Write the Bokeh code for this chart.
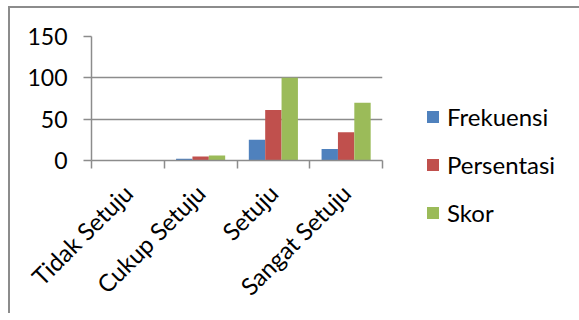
import math
from bokeh.plotting import figure
from bokeh.models import (FactorRange, Range1d, LinearAxis, CategoricalAxis, FixedTicker,
                          Legend, LegendItem, ColumnDataSource)
from bokeh.transform import dodge
from bokeh.embed import file_html
from bokeh.resources import INLINE

categories = ["Tidak Setuju", "Cukup Setuju", "Setuju", "Sangat Setuju"]
frekuensi = [0, 2, 25, 14]
persentasi = [0, 4.9, 61, 34.1]
skor = [0, 6, 100, 70]
series_names = ["Frekuensi", "Persentasi", "Skor"]
colors = ["#4F81BD", "#C0504D", "#9BBB59"]
y_ticks = [0, 50, 100, 150]

FONT = "Lato"
FS = "23px"
FS2 = "24px"
GRAY = "#8c8c8c"

src = ColumnDataSource(dict(cat=categories, Frekuensi=frekuensi, Persentasi=persentasi, Skor=skor))

p = figure(x_range=FactorRange(*categories), y_range=Range1d(0, 150),
           frame_width=291, frame_height=124, output_backend="svg", toolbar_location=None,
           x_axis_location=None, min_border_left=81, min_border_right=187,
           min_border_top=28, min_border_bottom=148)
p.styles = {"border-left": "2px solid #8c8c8c", "border-top": "2px solid #8c8c8c",
            "margin-left": "8px", "margin-top": "6px"}
p.outline_line_color = None
p.xgrid.visible = False
p.ygrid.ticker = FixedTicker(ticks=y_ticks)
p.ygrid.grid_line_color = GRAY
p.ygrid.grid_line_width = 1.5

yax = p.yaxis[0]
yax.ticker = FixedTicker(ticks=y_ticks)
yax.axis_line_color = GRAY
yax.axis_line_width = 1.5
yax.major_tick_line_color = GRAY
yax.major_tick_line_width = 1.5
yax.major_tick_out = 8
yax.major_tick_in = 0
yax.minor_tick_line_color = None
yax.major_label_standoff = 16
yax.major_label_text_font = FONT
yax.major_label_text_font_size = FS
yax.major_label_text_color = "black"

# boundary ticks axis (category boundaries in the factor range's synthetic coordinates)
bounds = list(range(len(categories) + 1))
bax = LinearAxis(ticker=FixedTicker(ticks=bounds),
                 major_label_overrides={i: "" for i in bounds},
                 major_label_text_font_size="0px", major_label_standoff=0,
                 axis_line_color=GRAY, axis_line_width=1.5,
                 major_tick_line_color=GRAY, major_tick_line_width=1.5,
                 major_tick_out=8, major_tick_in=0, minor_tick_line_color=None)
p.add_layout(bax, "below")

cax = CategoricalAxis(axis_line_color=None, major_tick_line_color=None,
                      major_label_orientation=math.pi / 4,
                      major_label_text_font=FONT, major_label_text_font_size=FS2,
                      major_label_text_color="black", major_label_standoff=14)
p.add_layout(cax, "below")

renderers = []
offsets = [-0.225, 0.0, 0.225]
for name, col, off in zip(series_names, colors, offsets):
    r = p.vbar(x=dodge("cat", off, range=p.x_range), top=name, width=0.225, source=src,
               fill_color=col, line_color=None)
    renderers.append(r)

legend = Legend(items=[LegendItem(label=n, renderers=[r]) for n, r in zip(series_names, renderers)],
                location=(43, -67), padding=0, margin=0, spacing=18,
                glyph_width=15, glyph_height=15, label_height=30, label_standoff=7,
                label_text_font=FONT, label_text_font_size=FS2, label_text_color="black",
                border_line_color=None, background_fill_alpha=0)
p.add_layout(legend, "right")

open("out.html", "w").write(file_html(p, INLINE))
